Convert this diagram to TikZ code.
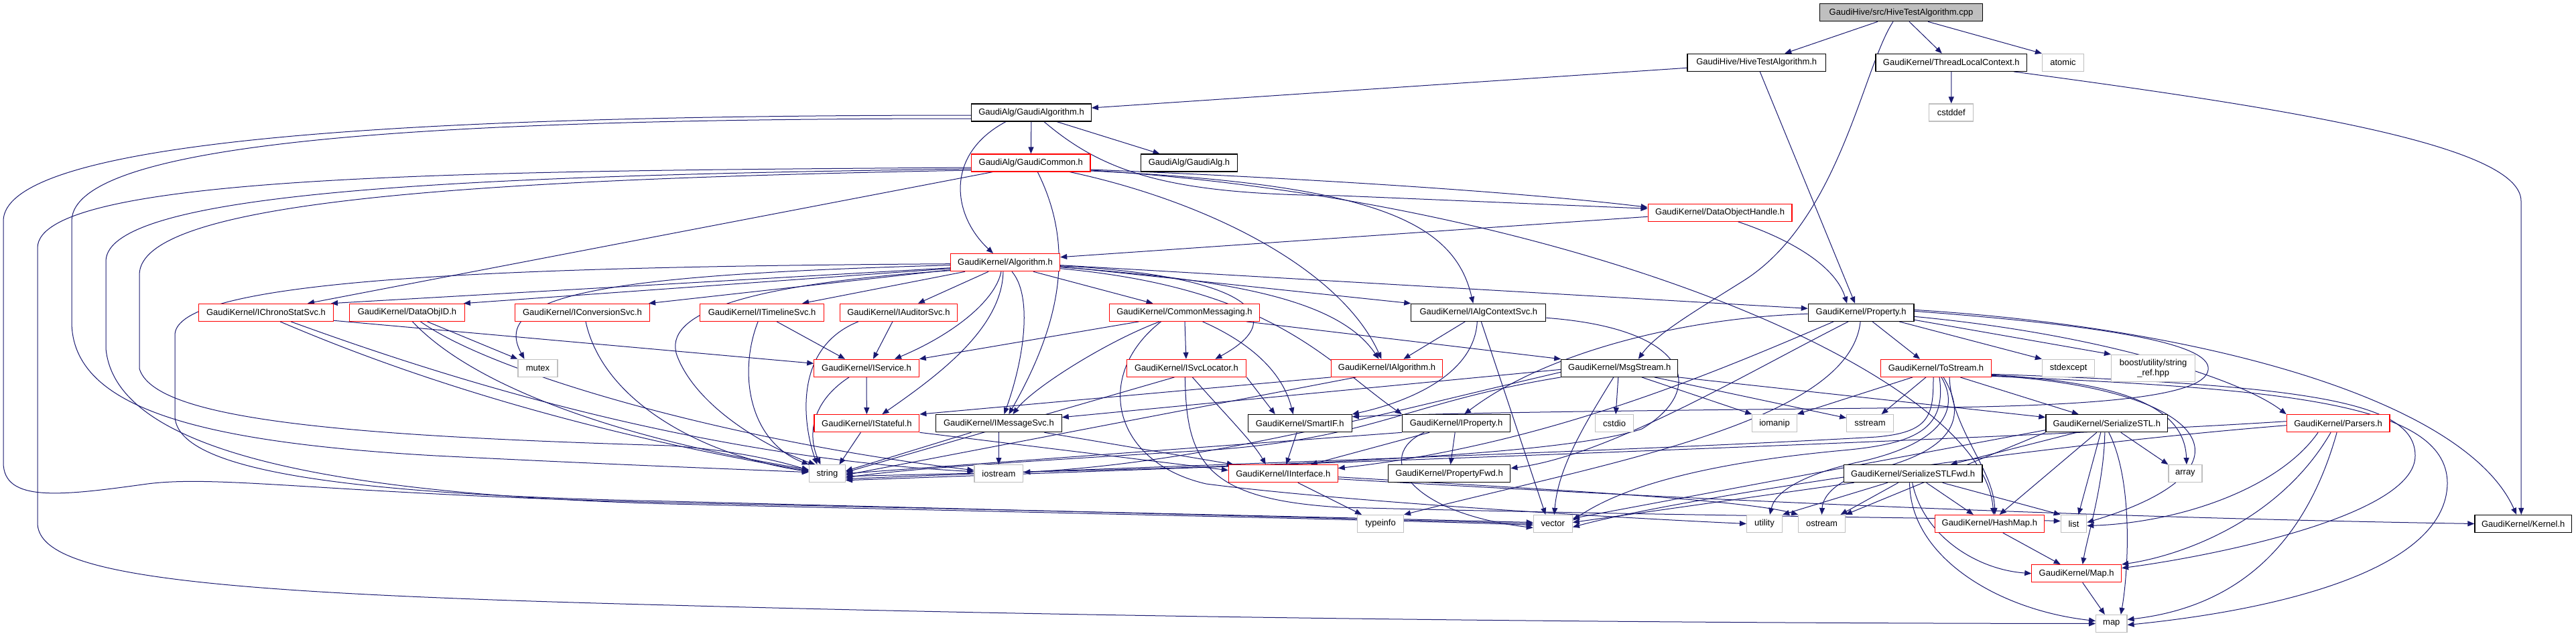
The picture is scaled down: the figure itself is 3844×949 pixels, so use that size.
\documentclass[tikz,border=0pt]{standalone}
\usepackage{fontspec}
\newfontfamily\dfont{Liberation Sans}
\usetikzlibrary{arrows.meta,backgrounds}
\definecolor{eb}{HTML}{191970}
\definecolor{sg}{HTML}{BFBFBF}
\definecolor{rd}{HTML}{FF0000}
\begin{document}
\begin{tikzpicture}[x=1bp,y=-1bp,
  nd/.style={draw, fill=white, inner sep=0pt, minimum height=26bp, line width=1.2bp, font=\dfont\fontsize{13bp}{15bp}\selectfont, text=black},
  rn/.style={nd, draw=rd},
  bn/.style={nd, draw=black},
  gn/.style={nd, draw=sg},
  edg/.style={draw=eb, line width=1bp, -{Triangle[length=10bp,width=8bp]}}]
\useasboundingbox (0,0) rectangle (3844,949);
% nodes
\node[bn,fill=sg,minimum width=243bp] (cpp) at (2837,18.7) {GaudiHive/src/HiveTestAlgorithm.cpp};
\node[bn,minimum width=206.6bp] (hta) at (2621.2,93.3) {GaudiHive/HiveTestAlgorithm.h};
\node[bn,minimum width=225.5bp] (tlc) at (2911.8,93.3) {GaudiKernel/ThreadLocalContext.h};
\node[gn,minimum width=62bp] (atomic) at (3078.5,93.3) {atomic};
\node[bn,minimum width=178.6bp] (galgo) at (1539,168) {GaudiAlg/GaudiAlgorithm.h};
\node[gn,minimum width=65.7bp] (cstddef) at (2911.7,168) {cstddef};
\node[rn,minimum width=177.4bp] (gcommon) at (1538.3,243) {GaudiAlg/GaudiCommon.h};
\node[bn,minimum width=143.5bp] (galg) at (1774.5,243) {GaudiAlg/GaudiAlg.h};
\node[rn,minimum width=214.9bp] (doh) at (2566.6,317.3) {GaudiKernel/DataObjectHandle.h};
\node[rn,minimum width=163.2bp] (algo) at (1500,391.7) {GaudiKernel/Algorithm.h};
\node[rn,minimum width=200.8bp] (ichrono) at (397,466.3) {GaudiKernel/IChronoStatSvc.h};
\node[rn,minimum width=171.5bp] (dataobjid) at (607.5,466.3) {GaudiKernel/DataObjID.h};
\node[rn,minimum width=201bp] (iconv) at (869,466.3) {GaudiKernel/IConversionSvc.h};
\node[rn,minimum width=185bp] (itimeline) at (1137.1,466.3) {GaudiKernel/ITimelineSvc.h};
\node[rn,minimum width=175.4bp] (iauditor) at (1340.9,466.3) {GaudiKernel/IAuditorSvc.h};
\node[rn,minimum width=223.9bp] (commonmsg) at (1767.5,466.3) {GaudiKernel/CommonMessaging.h};
\node[bn,minimum width=200.9bp] (ialgctx) at (2206.3,466.3) {GaudiKernel/IAlgContextSvc.h};
\node[bn,minimum width=157.6bp] (property) at (2777.1,466.3) {GaudiKernel/Property.h};
\node[gn,minimum width=59bp] (mutex) at (802.5,549.3) {mutex};
\node[rn,minimum width=156.3bp] (iservice) at (1293,549.3) {GaudiKernel/IService.h};
\node[rn,minimum width=178.6bp] (isvcloc) at (1770.4,549.3) {GaudiKernel/ISvcLocator.h};
\node[rn,minimum width=165.8bp] (ialgorithm) at (2069.5,549.3) {GaudiKernel/IAlgorithm.h};
\node[bn,minimum width=174.1bp] (msgstream) at (2416.8,549.3) {GaudiKernel/MsgStream.h};
\node[rn,minimum width=164.5bp] (tostream) at (2889,549.3) {GaudiKernel/ToStream.h};
\node[gn,minimum width=78.3bp] (stdexcept) at (3086.6,549.3) {stdexcept};
\node[gn,minimum width=125.2bp,minimum height=40bp,align=center] (boost) at (3213.1,549.3) {boost/utility/string\\\_ref.hpp};
\node[rn,minimum width=156.8bp] (istateful) at (1293.4,631.7) {GaudiKernel/IStateful.h};
\node[bn,minimum width=187.5bp] (imsgsvc) at (1490.4,631.7) {GaudiKernel/IMessageSvc.h};
\node[bn,minimum width=155bp] (smartif) at (1939.7,631.7) {GaudiKernel/SmartIF.h};
\node[bn,minimum width=161.3bp] (iproperty) at (2173.1,631.7) {GaudiKernel/IProperty.h};
\node[gn,minimum width=56.8bp] (cstdio) at (2409.1,631.7) {cstdio};
\node[gn,minimum width=66.3bp] (iomanip) at (2648,631.7) {iomanip};
\node[gn,minimum width=69.6bp] (sstream) at (2790.5,631.7) {sstream};
\node[bn,minimum width=181.8bp] (serstl) at (3143.8,631.7) {GaudiKernel/SerializeSTL.h};
\node[rn,minimum width=153.6bp] (parsers) at (3489.1,631.7) {GaudiKernel/Parsers.h};
\node[gn,minimum width=54.2bp] (string) at (1234.4,706.7) {string};
\node[gn,minimum width=72.8bp] (iostream) at (1490.4,706.7) {iostream};
\node[rn,minimum width=162.7bp] (iinterface) at (1914.8,706.7) {GaudiKernel/IInterface.h};
\node[bn,minimum width=182.4bp] (propfwd) at (2162.6,706.7) {GaudiKernel/PropertyFwd.h};
\node[bn,minimum width=206.6bp] (serstlfwd) at (2854.6,706.7) {GaudiKernel/SerializeSTLFwd.h};
\node[gn,minimum width=50bp] (array) at (3260.9,706.7) {array};
\node[gn,minimum width=68.9bp] (typeinfo) at (2060,781.5) {typeinfo};
\node[gn,minimum width=58bp] (vector) at (2317.3,781.5) {vector};
\node[gn,minimum width=52.9bp] (utility) at (2633,781.5) {utility};
\node[gn,minimum width=69.5bp] (ostream) at (2718.5,781.5) {ostream};
\node[rn,minimum width=163.4bp] (hashmap) at (2968.8,781.5) {GaudiKernel/HashMap.h};
\node[gn,minimum width=38.5bp] (list) at (3094.5,781.5) {list};
\node[bn,minimum width=144.5bp] (kernel) at (3765.2,781.5) {GaudiKernel/Kernel.h};
\node[rn,minimum width=133.7bp] (maph) at (3098.7,855.7) {GaudiKernel/Map.h};
\node[gn,minimum width=46.3bp] (map) at (3150.8,930.5) {map};
\begin{pgfonlayer}{background}
\fill[white] (0,0) rectangle (3844,949);
% cpp
\draw[edg] ([xshift=-35bp]cpp.south) -- ([xshift=42bp]hta.north);
\draw[edg] ([xshift=-12bp]cpp.south) .. controls (2780,100) and (2745,330) .. (2600,420) .. controls (2520,470) and (2470,500) .. ([xshift=28bp]msgstream.north);
\draw[edg] ([xshift=12bp]cpp.south) -- ([xshift=-14bp]tlc.north);
\draw[edg] ([xshift=40bp]cpp.south) -- (atomic.north west);
% hta
\draw[edg] ([yshift=-8bp]hta.west) -- ([yshift=7bp]galgo.east);
\draw[edg] ([xshift=5bp]hta.south) -- ([xshift=-9bp]property.north);
% tlc
\draw[edg] (tlc) -- (cstddef);
\draw[edg] ([xshift=93bp]tlc.south) .. controls (3400,160) and (3762,215) .. (3762,300) -- ([xshift=-3bp]kernel.north);
% galgo
\draw[edg] (galgo) -- (gcommon);
\draw[edg] ([xshift=38bp]galgo.south) -- ([xshift=-44bp]galg.north);
\draw[edg] ([xshift=-38bp]galgo.south) .. controls (1410,230) and (1420,320) .. ([xshift=-18bp]algo.north);
\draw[edg] ([xshift=19bp]galgo.south) .. controls (1650,260) and (1750,290) .. (2000,292) -- ([yshift=6bp]doh.west);
\draw[edg] ([yshift=-4bp]galgo.west) .. controls (700,172) and (5,200) .. (5,330) -- (5,690) .. controls (5,750) and (90,740) .. (220,722) .. controls (330,708) and (500,738) .. (1000,750) .. controls (1700,765) and (2150,776) .. ([yshift=2bp]vector.west);
\draw[edg] ([yshift=-9bp]galgo.west) .. controls (700,177) and (107,205) .. (107,330) -- (107,480) .. controls (107,610) and (300,660) .. (650,680) .. controls (950,695) and (1100,700) .. ([yshift=2bp]string.west);
% gcommon
\draw[edg] ([xshift=-57bp]gcommon.south) -- ([xshift=62bp]ichrono.north);
\draw[edg] ([xshift=10bp]gcommon.south) .. controls (1600,360) and (1590,470) .. ([xshift=15bp]imsgsvc.north);
\draw[edg] ([yshift=-10bp]gcommon.east) .. controls (2000,268) and (2300,290) .. ([yshift=8bp]doh.west);
\draw[edg] ([yshift=-12bp]gcommon.east) .. controls (2050,275) and (2170,330) .. ([xshift=-8bp]ialgctx.north);
\draw[edg] ([yshift=-11bp]gcommon.east) .. controls (2350,300) and (2960,560) .. ([xshift=6bp]hashmap.north);
\draw[edg] ([xshift=58bp]gcommon.south) .. controls (1800,300) and (2000,400) .. ([xshift=-8bp]ialgorithm.north);
\draw[edg] ([yshift=-7bp]gcommon.west) .. controls (700,255) and (56,260) .. (56,370) -- (56,780) .. controls (56,860) and (300,885) .. (1000,903) .. controls (1800,925) and (2600,930) .. (map.west);
\draw[edg] ([yshift=-9bp]gcommon.west) .. controls (700,262) and (158,285) .. (158,390) -- (158,520) .. controls (170,650) and (400,735) .. (1000,752) .. controls (1700,768) and (2150,778) .. ([yshift=-2bp]vector.west);
\draw[edg] ([yshift=-11bp]gcommon.west) .. controls (700,268) and (208,300) .. (208,410) -- (208,550) .. controls (230,625) and (500,650) .. (1000,665) .. controls (1100,672) and (1170,690) .. ([yshift=5bp]string.west);
% doh
\draw[edg] ([yshift=-6bp]doh.west) -- ([yshift=8bp]algo.east);
\draw[edg] ([xshift=27bp]doh.south) .. controls (2680,360) and (2740,400) .. ([xshift=-21bp]property.north);
% algo
\draw[edg] ([yshift=-8bp]algo.west) -- ([xshift=-4bp]ichrono.north east);
\draw[edg] ([yshift=-9bp]algo.west) -- ([xshift=-2bp]dataobjid.north east);
\draw[edg] ([yshift=-11bp]algo.west) -- ([xshift=-2bp]iconv.north east);
\draw[edg] ([yshift=-4bp]algo.west) .. controls (900,410) and (730,440) .. ([xshift=-20bp]mutex.north);
\draw[edg] ([yshift=-12bp]algo.west) .. controls (1100,425) and (990,470) .. (1010,530) .. controls (1040,610) and (1150,670) .. ([xshift=-18bp]string.north);
\draw[edg] ([yshift=-2bp]algo.west) .. controls (700,398) and (261,420) .. (261,500) -- (261,620) .. controls (261,700) and (500,738) .. (1000,748) .. controls (1700,766) and (2150,777) .. (vector.west);
\draw[edg] ([xshift=-60bp]algo.south) -- ([xshift=60bp]itimeline.north);
\draw[edg] ([xshift=-25bp]algo.south) -- ([xshift=29bp]iauditor.north);
\draw[edg] ([xshift=-6bp]algo.south) .. controls (1485,450) and (1420,500) .. ([xshift=42bp]iservice.north);
\draw[edg] ([xshift=-3bp]algo.south) .. controls (1495,490) and (1400,560) .. ([xshift=23bp]istateful.north);
\draw[edg] ([xshift=10bp]algo.south) .. controls (1540,440) and (1530,530) .. ([xshift=8bp]imsgsvc.north);
\draw[edg] ([xshift=42bp]algo.south) -- ([xshift=-47bp]commonmsg.north);
\draw[edg] ([yshift=-4bp]algo.east) -- ([yshift=6bp]property.west);
\draw[edg] ([yshift=-6bp]algo.east) -- (ialgctx.north west);
\draw[edg] ([yshift=-5bp]algo.east) .. controls (1850,410) and (1935,470) .. ([xshift=43bp]isvcloc.north);
\draw[edg] ([yshift=-7bp]algo.east) .. controls (1850,418) and (2000,450) .. ([xshift=-12bp]ialgorithm.north);
\draw[edg] ([yshift=-9bp]algo.east) .. controls (1900,430) and (1980,540) .. (iproperty.north west);
% dataobjid
\draw[edg] ([xshift=30bp]dataobjid.south) -- (mutex.north west);
\draw[edg] ([xshift=8bp]dataobjid.south) .. controls (700,570) and (900,650) .. ([yshift=6bp]string.west);
\draw[edg] ([xshift=20bp]dataobjid.south) .. controls (740,560) and (1100,660) .. ([yshift=5bp]iostream.west);
% ichrono
\draw[edg] ([yshift=-12bp]ichrono.east) -- ([yshift=7bp]iservice.west);
\draw[edg] ([xshift=21bp]ichrono.south) .. controls (640,575) and (900,650) .. ([yshift=4bp]string.west);
\draw[edg] ([xshift=37bp]ichrono.south) .. controls (600,540) and (1000,680) .. ([yshift=3bp]iostream.west);
% iconv
\draw[edg] ([xshift=5bp]iconv.south) .. controls (900,600) and (1050,680) .. ([yshift=3bp]string.west);
% itimeline
\draw[edg] ([xshift=22bp]itimeline.south) -- ([xshift=-32bp]iservice.north);
\draw[edg] ([xshift=-6bp]itimeline.south) .. controls (1100,560) and (1120,660) .. (string.north west);
% iauditor
\draw[edg] ([xshift=-9bp]iauditor.south) -- ([xshift=10bp]iservice.north);
\draw[edg] ([xshift=-60bp]iauditor.south) .. controls (1180,520) and (1200,640) .. ([xshift=-15bp]string.north);
% iservice
\draw[edg] (iservice) -- (istateful);
\draw[edg] ([xshift=-26bp]iservice.south) .. controls (1210,600) and (1205,650) .. ([xshift=-10bp]string.north);
% istateful
\draw[edg] ([xshift=-9bp]istateful.south) -- ([xshift=18bp]string.north);
\draw[edg] (istateful.south east) -- ([yshift=5bp]iinterface.west);
% imsgsvc
\draw[edg] ([xshift=-41bp]imsgsvc.south) -- ([yshift=4bp]string.east);
\draw[edg] (imsgsvc) -- (iostream);
\draw[edg] ([xshift=68bp]imsgsvc.south) -- ([xshift=8bp]iinterface.north west);
% commonmsg
\draw[edg] ([xshift=-68bp]commonmsg.south) -- (iservice.north east);
\draw[edg] ([xshift=-37bp]commonmsg.south) .. controls (1650,510) and (1540,580) .. ([xshift=21bp]imsgsvc.north);
\draw[edg] (commonmsg) -- (isvcloc);
\draw[edg] ([xshift=27bp]commonmsg.south) .. controls (1840,500) and (1910,540) .. ([xshift=-10bp]smartif.north);
\draw[edg] ([xshift=-20bp]commonmsg.south east) -- (msgstream.north west);
\draw[edg] ([xshift=-35bp]commonmsg.south) .. controls (1630,560) and (1660,690) .. (1800,722) .. controls (2000,748) and (2400,772) .. (utility.west);
% isvcloc
\draw[edg] ([xshift=-18bp]isvcloc.south) -- ([yshift=2bp]string.east);
\draw[edg] (isvcloc.south east) -- ([xshift=-37bp]smartif.north);
\draw[edg] ([xshift=9bp]isvcloc.south) .. controls (1830,620) and (1870,660) .. ([xshift=-26bp]iinterface.north);
\draw[edg] ([xshift=-2bp]isvcloc.south) .. controls (1770,690) and (1800,745) .. (2000,757) .. controls (2500,770) and (2900,772) .. ([yshift=4bp]list.west);
% ialgorithm
\draw[edg] (ialgorithm.south west) -- (istateful.north east);
\draw[edg] ([xshift=-46bp]ialgorithm.south) -- ([yshift=-2bp]string.east);
% ialgctx
\draw[edg] ([xshift=-20bp]ialgctx.south) -- ([xshift=25bp]ialgorithm.north);
\draw[edg] ([xshift=-2bp]ialgctx.south) .. controls (2200,560) and (2100,600) .. (smartif.north east);
\draw[edg] ([xshift=4bp]ialgctx.south) -- ([xshift=-11bp]vector.north);
\draw[edg] ([yshift=-8bp]ialgctx.east) .. controls (2520,490) and (2550,580) .. (2450,640) .. controls (2300,690) and (1700,700) .. ([yshift=-4bp]string.east);
% msgstream
\draw[edg] ([yshift=-2bp]msgstream.west) -- ([yshift=9bp]imsgsvc.east);
\draw[edg] (msgstream.south west) .. controls (2100,600) and (2050,655) .. (1800,672) .. controls (1500,690) and (1350,700) .. ([yshift=-6bp]string.east);
\draw[edg] ([yshift=-6bp]msgstream.west) .. controls (2050,620) and (1800,690) .. ([yshift=2bp]iostream.east);
\draw[edg] ([xshift=-9bp]msgstream.south) .. controls (2360,640) and (2325,700) .. ([xshift=2bp]vector.north);
\draw[edg] ([xshift=-2bp]msgstream.south) -- ([xshift=2bp]cstdio.north);
\draw[edg] ([xshift=33bp]msgstream.south) -- (iomanip.north west);
\draw[edg] ([xshift=52bp]msgstream.south) -- ([yshift=8bp]sstream.west);
\draw[edg] (msgstream.south east) -- ([yshift=9bp]serstl.west);
% tostream
\draw[edg] ([xshift=-35bp]tostream.south) -- (iomanip.north east);
\draw[edg] ([xshift=-15bp]tostream.south) -- ([xshift=17bp]sstream.north);
\draw[edg] ([xshift=36bp]tostream.south) -- ([xshift=-42bp]serstl.north);
\draw[edg] ([xshift=-4bp]tostream.south) .. controls (2885,620) and (2880,645) .. (2800,652) .. controls (2400,675) and (1600,700) .. ([yshift=-8bp]string.east);
\draw[edg] ([xshift=5bp]tostream.south) .. controls (2905,640) and (2860,662) .. (2750,672) .. controls (2500,695) and (2400,740) .. ([yshift=5bp]vector.east);
\draw[edg] ([xshift=8bp]tostream.south) .. controls (2925,610) and (2900,660) .. (2780,688) .. controls (2700,705) and (2650,730) .. ([xshift=8bp]utility.north);
\draw[edg] ([xshift=11bp]tostream.south) .. controls (2935,620) and (2920,670) .. (2800,700) .. controls (2740,715) and (2720,740) .. (ostream.north);
\draw[edg] ([xshift=20bp]tostream.south) .. controls (2912,640) and (2975,700) .. ([xshift=8bp]hashmap.north);
\draw[edg] ([yshift=-10bp]tostream.east) .. controls (3150,570) and (3260,600) .. ([xshift=2bp]array.north);
\draw[edg] ([yshift=-11bp]tostream.east) .. controls (3300,580) and (3380,700) .. ([yshift=2bp]list.east);
\draw[edg] ([yshift=-12bp]tostream.east) .. controls (3400,580) and (3650,600) .. (3652,720) .. controls (3652,850) and (3400,910) .. ([yshift=-2bp]map.east);
\draw[edg] ([yshift=-9bp]tostream.east) .. controls (3450,575) and (3604,600) .. (3604,680) .. controls (3604,770) and (3300,830) .. ([yshift=8bp]maph.east);
% serstl
\draw[edg] ([xshift=-45bp]serstl.south) -- ([xshift=56bp]serstlfwd.north);
\draw[edg] ([xshift=-15bp]serstl.south) -- ([xshift=15bp]hashmap.north);
\draw[edg] ([xshift=-9bp]serstl.south) -- ([xshift=7bp]list.north);
\draw[edg] ([xshift=-3bp]serstl.south) .. controls (3140,720) and (3115,800) .. ([xshift=9bp]maph.north);
\draw[edg] ([xshift=3bp]serstl.south) .. controls (3185,720) and (3175,860) .. ([xshift=14bp]map.north);
\draw[edg] ([xshift=21bp]serstl.south) -- (array.north west);
\draw[edg] ([yshift=-10bp]serstl.west) -- ([yshift=8bp]vector.east);
\draw[edg] (serstl.south west) -- (ostream.north east);
% serstlfwd
\draw[edg] ([xshift=-88bp]serstlfwd.south) -- ([yshift=2bp]vector.east);
\draw[edg] ([xshift=-38bp]serstlfwd.south) -- (utility.north east);
\draw[edg] ([xshift=-22bp]serstlfwd.south) -- ([xshift=28bp]ostream.north);
\draw[edg] ([xshift=-5bp]serstlfwd.south) .. controls (2850,830) and (2980,910) .. ([yshift=4bp]map.west);
\draw[edg] ([xshift=-1bp]serstlfwd.south) .. controls (2870,800) and (2950,850) .. (maph.west);
\draw[edg] ([xshift=20bp]serstlfwd.south) -- ([xshift=-24bp]hashmap.north);
\draw[edg] ([xshift=44bp]serstlfwd.south) -- (list.north west);
% parsers
\draw[edg] ([xshift=-30bp]parsers.south) .. controls (3400,730) and (3250,780) .. ([yshift=-3bp]list.east);
\draw[edg] ([xshift=-11bp]parsers.south) .. controls (3400,780) and (3250,830) .. (maph.north east);
\draw[edg] ([xshift=-2bp]parsers.south) .. controls (3430,850) and (3300,910) .. ([yshift=6bp]map.east);
\draw[edg] ([yshift=3bp]parsers.west) .. controls (3000,655) and (2000,690) .. ([yshift=-10bp]string.east);
\draw[edg] ([yshift=-3bp]parsers.west) .. controls (3000,668) and (2500,745) .. ([yshift=-5bp]vector.east);
% hashmap, maph
\draw[edg] ([xshift=20bp]hashmap.south) -- ([xshift=-24bp]maph.north);
\draw[edg] ([xshift=9bp]maph.south) -- ([xshift=-10bp]map.north);
% iinterface
\draw[edg] ([xshift=22bp]iinterface.south) -- ([xshift=-28bp]typeinfo.north);
\draw[edg] ([yshift=-5bp]iinterface.east) .. controls (2300,730) and (2600,745) .. (ostream.north west);
\draw[edg] ([yshift=-8bp]iinterface.east) .. controls (2400,738) and (3000,770) .. (kernel.west);
% smartif
\draw[edg] (smartif) -- (iinterface);
% iproperty
\draw[edg] ([xshift=-40bp]iproperty.south) -- ([xshift=41bp]iinterface.north);
\draw[edg] (iproperty) -- (propfwd);
\draw[edg] (iproperty.south west) -- (string.east);
\draw[edg] ([xshift=-48bp]iproperty.south) .. controls (2050,680) and (2100,765) .. ([yshift=-6bp]vector.west);
% property
\draw[edg] ([yshift=-2bp]property.west) .. controls (2500,475) and (2300,530) .. ([xshift=12bp]iproperty.north);
\draw[edg] ([xshift=17bp]property.south) -- ([xshift=-24bp]tostream.north);
\draw[edg] ([xshift=57bp]property.south) -- (stdexcept.north west);
\draw[edg] ([yshift=-11bp]property.east) -- (boost.north west);
\draw[edg] ([yshift=4bp]property.east) .. controls (3300,490) and (3680,600) .. ([xshift=-10bp]kernel.north);
\draw[edg] ([yshift=2bp]property.east) .. controls (3200,490) and (3300,520) .. (3295,552) .. controls (3290,595) and (3100,605) .. (2900,608) .. controls (2500,612) and (2200,615) .. ([yshift=10bp]smartif.east);
\draw[edg] ([xshift=-19bp]property.south) .. controls (2600,560) and (2400,680) .. ([yshift=8bp]propfwd.east);
\draw[edg] ([xshift=-1bp]property.south) .. controls (2760,630) and (2400,690) .. (typeinfo.north east);
\draw[edg] ([xshift=-41bp]property.south) .. controls (2550,560) and (2300,665) .. ([yshift=8bp]iinterface.east);
\draw[edg] ([yshift=-6bp]property.east) .. controls (3150,500) and (3350,570) .. (parsers.north west);
\end{pgfonlayer}
\end{tikzpicture}
\end{document}
